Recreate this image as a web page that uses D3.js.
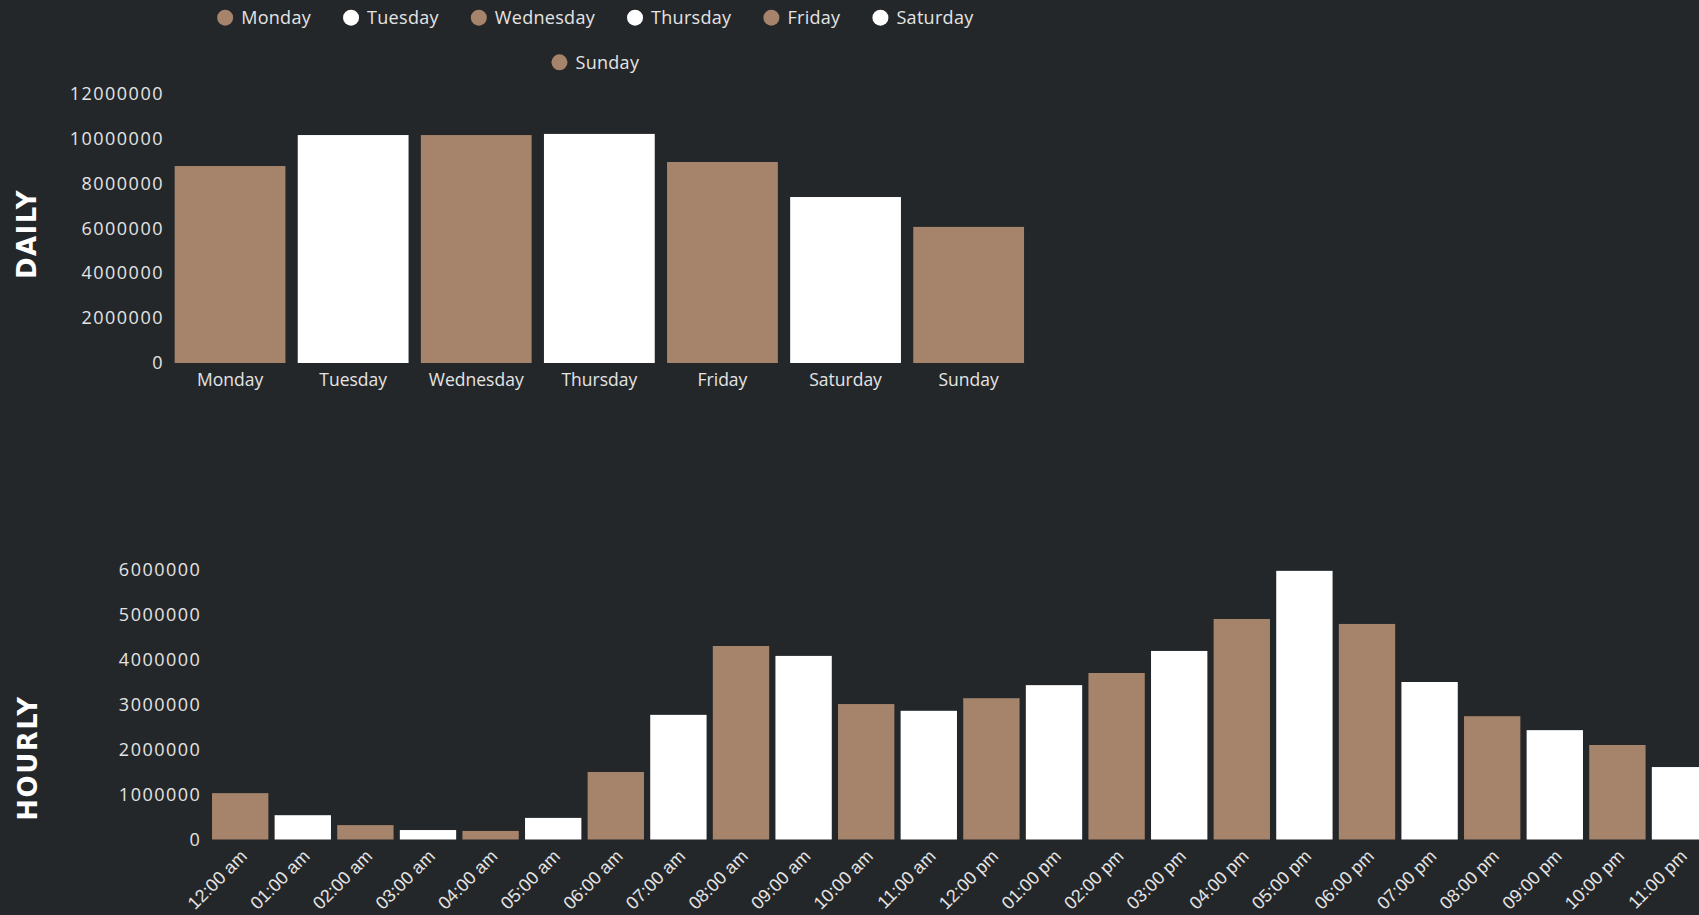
<!DOCTYPE html>
<html>
<head>
<meta charset="utf-8">
<script src="https://cdn.jsdelivr.net/npm/d3@7"></script>
<style>
  html, body { margin: 0; padding: 0; background: #24272a; overflow: hidden; }
  svg { display: block; }
  .tick line, .domain { display: none; }
</style>
</head>
<body>
<svg id="chart"></svg>
<script>
// data
var days = ["Monday", "Tuesday", "Wednesday", "Thursday", "Friday", "Saturday", "Sunday"];
var dailyValues = [8770000, 10150000, 10150000, 10200000, 8950000, 7390000, 6060000];
var dailyTicks = [0, 2000000, 4000000, 6000000, 8000000, 10000000, 12000000];

var hours = ["12:00 am", "01:00 am", "02:00 am", "03:00 am", "04:00 am", "05:00 am",
             "06:00 am", "07:00 am", "08:00 am", "09:00 am", "10:00 am", "11:00 am",
             "12:00 pm", "01:00 pm", "02:00 pm", "03:00 pm", "04:00 pm", "05:00 pm",
             "06:00 pm", "07:00 pm", "08:00 pm", "09:00 pm", "10:00 pm", "11:00 pm"];
var hourlyValues = [1030000, 540000, 320000, 210000, 190000, 480000,
                    1500000, 2770000, 4300000, 4080000, 3010000, 2860000,
                    3140000, 3430000, 3700000, 4190000, 4900000, 5970000,
                    4790000, 3500000, 2740000, 2430000, 2100000, 1610000];
var hourlyTicks = [0, 1000000, 2000000, 3000000, 4000000, 5000000, 6000000];

var BROWN = "#a6836b", WHITE = "#ffffff", TEXT = "#e4e4e4";
var colorOf = function (i) { return i % 2 === 0 ? BROWN : WHITE; };

var W = 1699, H = 915;
var svg = d3.select("#chart").attr("width", W).attr("height", H);

// ---------- daily ----------
var xDay = d3.scaleBand().domain(days).range([168.5, 1030.2])
    .paddingInner(0.1).paddingOuter(0.05);
var yDay = d3.scaleLinear().domain([0, 12000000]).range([363, 93.5]);

var gDay = svg.append("g");
gDay.selectAll(".bar")
    .data(dailyValues)
    .enter()
    .append("rect")
    .attr("class", "bar")
    .attr("x", function (d, i) { return xDay(days[i]); })
    .attr("y", function (d) { return yDay(d); })
    .attr("width", xDay.bandwidth())
    .attr("height", function (d) { return yDay(0) - yDay(d); })
    .style("fill", function (d, i) { return colorOf(i); });

var yAxisDay = gDay.append("g")
    .attr("transform", "translate(168.5,0)")
    .call(d3.axisLeft(yDay).tickValues(dailyTicks).tickFormat(d3.format("d")).tickSize(0).tickPadding(4.5));
yAxisDay.selectAll("text")
    .style("font-family", "'Open Sans'").style("font-size", "18px")
    .style("letter-spacing", "1.5px").style("fill", TEXT);

var xAxisDay = gDay.append("g")
    .attr("transform", "translate(0," + yDay(0) + ")")
    .call(d3.axisBottom(xDay).tickSize(0).tickPadding(10.5));
xAxisDay.selectAll("text")
    .style("font-family", "'Open Sans'").style("font-size", "17.5px").style("fill", TEXT);

svg.append("text")
    .attr("transform", "translate(27,234) rotate(-90)")
    .attr("text-anchor", "middle")
    .attr("dominant-baseline", "central")
    .style("font-family", "'DejaVu Sans'").style("font-weight", "bold")
    .style("font-size", "26px").style("letter-spacing", "1.5px")
    .style("fill", WHITE)
    .text("DAILY");

// legend
var legend = svg.append("g");
var items = legend.selectAll(".item")
    .data(days)
    .enter()
    .append("g")
    .attr("class", "item");
items.append("circle").attr("r", 8).attr("cx", 8).attr("cy", 0)
    .style("fill", function (d, i) { return colorOf(i); });
items.append("text").attr("x", 24).attr("dy", "0.35em")
    .style("font-family", "'Open Sans'").style("font-size", "18px")
    .style("letter-spacing", "0.3px").style("fill", TEXT)
    .text(function (d) { return d; });

var maxRow = 800, rows = [[]], rowW = [0];
items.each(function (d, i) {
    var w = 24 + this.querySelector("text").getComputedTextLength();
    var r = rows.length - 1;
    var add = rows[r].length ? 32 + w : w;
    if (rowW[r] + add > maxRow) { rows.push([]); rowW.push(0); r++; add = w; }
    rows[r].push({node: this, w: w});
    rowW[r] += add;
});
var center = (xDay.range()[0] + xDay.range()[1]) / 2 - 4;
rows.forEach(function (row, r) {
    var x = center - rowW[r] / 2;
    row.forEach(function (it) {
        d3.select(it.node).attr("transform", "translate(" + x + "," + (17.7 + r * 44.6) + ")");
        x += it.w + 32;
    });
});

// ---------- hourly ----------
var xHour = d3.scaleBand().domain(hours).range([208.9, 208.9 + 62.6 * 24])
    .paddingInner(0.1).paddingOuter(0.05);
var yHour = d3.scaleLinear().domain([0, 6000000]).range([839.5, 569.5]);

var gHour = svg.append("g");
gHour.selectAll(".bar")
    .data(hourlyValues)
    .enter()
    .append("rect")
    .attr("class", "bar")
    .attr("x", function (d, i) { return xHour(hours[i]); })
    .attr("y", function (d) { return yHour(d); })
    .attr("width", xHour.bandwidth())
    .attr("height", function (d) { return yHour(0) - yHour(d); })
    .style("fill", function (d, i) { return colorOf(i); });

var yAxisHour = gHour.append("g")
    .attr("transform", "translate(208.9,0)")
    .call(d3.axisLeft(yHour).tickValues(hourlyTicks).tickFormat(d3.format("d")).tickSize(0).tickPadding(7.5));
yAxisHour.selectAll("text")
    .style("font-family", "'Open Sans'").style("font-size", "18px")
    .style("letter-spacing", "1.5px").style("fill", TEXT);

var xAxisHour = gHour.append("g")
    .attr("transform", "translate(0," + yHour(0) + ")")
    .call(d3.axisBottom(xHour).tickSize(0).tickPadding(0));
xAxisHour.selectAll("text")
    .attr("y", 0).attr("dy", 0)
    .attr("text-anchor", "end")
    .attr("transform", "translate(8,18) rotate(-45)")
    .style("font-family", "'Liberation Sans'").style("font-size", "18px").style("fill", TEXT);

svg.append("text")
    .attr("transform", "translate(28,758) rotate(-90)")
    .attr("text-anchor", "middle")
    .attr("dominant-baseline", "central")
    .style("font-family", "'DejaVu Sans'").style("font-weight", "bold")
    .style("font-size", "26px").style("letter-spacing", "1.5px")
    .style("fill", WHITE)
    .text("HOURLY");
</script>
</body>
</html>
